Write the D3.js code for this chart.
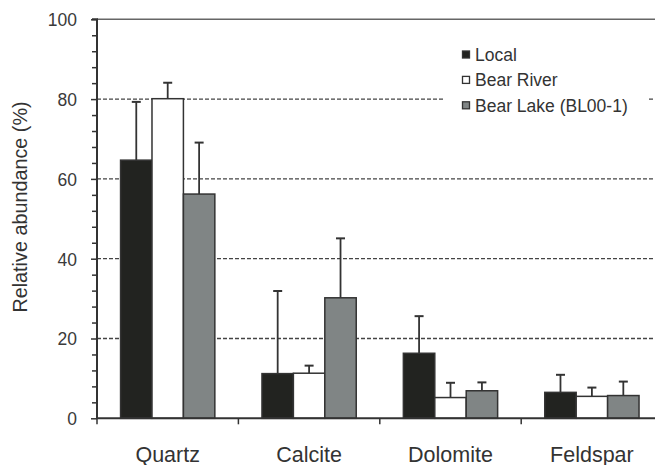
<!DOCTYPE html>
<html>
<head>
<meta charset="utf-8">
<script src="https://cdn.jsdelivr.net/npm/d3@7"></script>
<style>
  html, body { margin: 0; padding: 0; background: #fff; }
  svg { display: block; font-family: "Liberation Sans", Arial, Helvetica, sans-serif; }
</style>
</head>
<body>
<svg id="chart" width="655" height="465"></svg>
<script>
// Mineral groups and sources
const categories = ["Quartz", "Calcite", "Dolomite", "Feldspar"];
const seriesNames = ["Local", "Bear River", "Bear Lake (BL00-1)"];
const seriesColors = ["#222320", "#ffffff", "#808585"];

// Mean relative abundance (%) per source, in category order
const localMean = [64.7, 11.2, 16.3, 6.5];
const riverMean = [80.1, 11.3, 5.2, 5.5];
const lakeMean  = [56.2, 30.2, 6.9, 5.7];

// Upper end of the error bar (mean + 1 s.d.)
const localUpper = [79.3, 31.9, 25.6, 10.9];
const riverUpper = [84.1, 13.2, 8.9, 7.7];
const lakeUpper  = [69.1, 45.1, 9.0, 9.2];

const yMajorTicks = [0, 20, 40, 60, 80, 100];
const yGridTicks = [20, 40, 60, 80];

const means = [localMean, riverMean, lakeMean];
const uppers = [localUpper, riverUpper, lakeUpper];

const svg = d3.select("#chart");
const plotLeft = 97, plotTop = 19.3, plotBottom = 418.3, step = 141.4;

const y = d3.scaleLinear().domain([0, 100]).range([plotBottom, plotTop]);
const x0 = d3.scaleBand().domain(categories).range([plotLeft, plotLeft + step * categories.length]).padding(0);
const x1 = d3.scaleBand().domain(seriesNames).range([0, x0.bandwidth()]).paddingInner(0).paddingOuter(0.75);

// dashed horizontal guides
svg.append("g").selectAll("line").data(yGridTicks).join("line")
  .attr("x1", plotLeft).attr("x2", 700)
  .attr("y1", d => y(d)).attr("y2", d => y(d))
  .attr("stroke", "#444").attr("stroke-width", 1.3)
  .attr("stroke-dasharray", "4,2");

// top frame line
svg.append("line")
  .attr("x1", plotLeft).attr("x2", 700).attr("y1", y(100)).attr("y2", y(100))
  .attr("stroke", "#666").attr("stroke-width", 1.5);

// legend background hides the guide behind it
svg.append("rect").attr("x", 445).attr("y", 38).attr("width", 203).attr("height", 84).attr("fill", "#fff");

// bars + error bars
const rows = [];
categories.forEach((c, i) => {
  seriesNames.forEach((s, j) => {
    rows.push({ cat: c, series: s, color: seriesColors[j], mean: means[j][i], upper: uppers[j][i] });
  });
});

const groups = svg.append("g");
const errG = groups.append("g");
errG.selectAll("line.err").data(rows).join("line")
  .attr("class", "err")
  .attr("x1", d => x0(d.cat) + x1(d.series) + x1.bandwidth() / 2)
  .attr("x2", d => x0(d.cat) + x1(d.series) + x1.bandwidth() / 2)
  .attr("y1", d => y(d.mean)).attr("y2", d => y(d.upper))
  .attr("stroke", "#333").attr("stroke-width", 1.8);
errG.selectAll("line.cap").data(rows).join("line")
  .attr("class", "cap")
  .attr("x1", d => x0(d.cat) + x1(d.series) + x1.bandwidth() / 2 - 4.5)
  .attr("x2", d => x0(d.cat) + x1(d.series) + x1.bandwidth() / 2 + 4.5)
  .attr("y1", d => y(d.upper)).attr("y2", d => y(d.upper))
  .attr("stroke", "#333").attr("stroke-width", 2);

groups.append("g").selectAll("rect").data(rows).join("rect")
  .attr("x", d => x0(d.cat) + x1(d.series))
  .attr("y", d => y(d.mean))
  .attr("width", x1.bandwidth())
  .attr("height", d => y(0) - y(d.mean))
  .attr("fill", d => d.color)
  .attr("stroke", "#333").attr("stroke-width", 1.5);

// y axis
const yAxis = d3.axisLeft(y).tickValues(d3.range(0, 101, 4)).tickSize(5).tickFormat(d => yMajorTicks.includes(d) ? d : "");
const yg = svg.append("g").attr("transform", `translate(${plotLeft},0)`).call(yAxis);
yg.select(".domain").attr("stroke", "#333").attr("stroke-width", 2).attr("d", `M-5,${y(100)}H0V${y(0)}`);
yg.selectAll(".tick line").attr("stroke", "#333").attr("stroke-width", 1.5)
  .attr("x2", d => yMajorTicks.includes(d) ? -6 : -5);
yg.selectAll(".tick text").attr("fill", "#3a3a3a").attr("font-size", 17.5).attr("x", -20).attr("dy", "0.36em");

// x axis
const xg = svg.append("g").attr("transform", `translate(0,${plotBottom})`)
  .call(d3.axisBottom(x0).tickSize(0).tickPadding(28));
xg.select(".domain").attr("stroke", "#333").attr("stroke-width", 2).attr("d", `M${plotLeft},0H700`);
xg.selectAll(".tick text").attr("fill", "#333").attr("font-size", 21.5).attr("dy", "0.71em");
svg.append("g").selectAll("line").data(categories).join("line")
  .attr("x1", d => x0(d)).attr("x2", d => x0(d))
  .attr("y1", plotBottom).attr("y2", plotBottom + 6)
  .attr("stroke", "#333").attr("stroke-width", 1.5);

// y title
svg.append("text")
  .attr("transform", `translate(27,207) rotate(-90)`)
  .attr("text-anchor", "middle")
  .attr("font-size", 19.8).attr("fill", "#333")
  .text("Relative abundance (%)");

// legend
const lg = svg.append("g").selectAll("g").data(seriesNames).join("g")
  .attr("transform", (d, i) => `translate(462,${61 + i * 25.4})`);
lg.append("rect").attr("x", 0.5).attr("y", -10).attr("width", 7).attr("height", 7)
  .attr("fill", (d, i) => seriesColors[i]).attr("stroke", "#333").attr("stroke-width", 1.3);
lg.append("text").attr("x", 13).attr("y", 0).attr("font-size", 17.5).attr("fill", "#333").text(d => d);
</script>
</body>
</html>
